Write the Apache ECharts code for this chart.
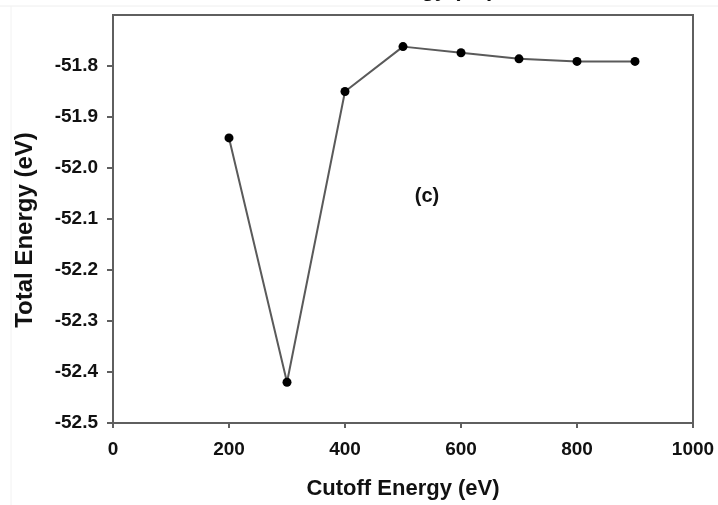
<!DOCTYPE html>
<html>
<head>
<meta charset="utf-8">
<script src="https://cdn.jsdelivr.net/npm/echarts@6/dist/echarts.min.js"></script>
<style>
  html, body { margin: 0; padding: 0; background: #fff; }
  #chart { width: 718px; height: 505px; }
</style>
</head>
<body>
<div id="chart"></div>
<script>
// Convergence of total energy with plane-wave cutoff
const cutoffEnergy = [200, 300, 400, 500, 600, 700, 800, 900];
const totalEnergy = [-51.941, -52.420, -51.850, -51.762, -51.774, -51.786, -51.791, -51.791];
const xTicks = [0, 200, 400, 600, 800, 1000];
const yTicks = [-52.5, -52.4, -52.3, -52.2, -52.1, -52.0, -51.9, -51.8, -51.7];

const chart = echarts.init(document.getElementById('chart'));
const fontFamily = '"Liberation Sans", Arial, sans-serif';
const axisColor = '#5f5f5f';

chart.setOption({
  animation: false,
  backgroundColor: '#fff',
  grid: {
    left: 113, right: 25, top: 15, bottom: 82,
    show: true, borderColor: axisColor, borderWidth: 2
  },
  xAxis: {
    type: 'value',
    min: xTicks[0], max: xTicks[xTicks.length - 1], interval: 200,
    splitLine: { show: false },
    axisLine: { show: true, onZero: false, lineStyle: { color: axisColor, width: 2 } },
    axisTick: { show: true, length: 5, lineStyle: { color: axisColor, width: 2 } },
    axisLabel: {
      margin: 17, color: '#111', fontSize: 19, fontWeight: 'bold', fontFamily,
      formatter: v => String(v)
    }
  },
  yAxis: {
    type: 'value',
    min: yTicks[0], max: yTicks[yTicks.length - 1], interval: 0.1,
    splitLine: { show: false },
    axisLine: { show: true, onZero: false, lineStyle: { color: axisColor, width: 2 } },
    axisTick: { show: true, length: 6, lineStyle: { color: axisColor, width: 2 } },
    axisLabel: {
      margin: 15, color: '#111', fontSize: 19, fontWeight: 'bold', fontFamily,
      showMaxLabel: false,
      formatter: v => v.toFixed(1)
    }
  },
  series: [{
    type: 'line',
    data: cutoffEnergy.map((c, i) => [c, totalEnergy[i]]),
    symbol: 'circle',
    symbolSize: 9,
    itemStyle: { color: '#000' },
    lineStyle: { color: '#5a5a5a', width: 2 }
  }],
  graphic: [
    { type: 'line', shape: { x1: 0, y1: 6, x2: 718, y2: 6 }, style: { stroke: '#eeeeee', lineWidth: 1 }, silent: true },
    { type: 'line', shape: { x1: 11, y1: 6, x2: 11, y2: 505 }, style: { stroke: '#f2f2f2', lineWidth: 1 }, silent: true },
    {
      type: 'text', x: 398, y: 1,
      style: { text: 'Cutoff Energy (eV)', fill: '#111', font: 'bold 22px ' + fontFamily, textAlign: 'center', textVerticalAlign: 'bottom' }
    },
    {
      type: 'text', x: 427, y: 196,
      style: { text: '(c)', fill: '#111', font: 'bold 20px ' + fontFamily, textAlign: 'center', textVerticalAlign: 'middle' }
    },
    {
      type: 'text', x: 403, y: 489,
      style: { text: 'Cutoff Energy (eV)', fill: '#111', font: 'bold 22px ' + fontFamily, textAlign: 'center', textVerticalAlign: 'middle' }
    },
    {
      type: 'text', x: 25, y: 230, rotation: Math.PI / 2,
      style: { text: 'Total Energy (eV)', fill: '#111', font: 'bold 24px ' + fontFamily, textAlign: 'center', textVerticalAlign: 'middle' }
    }
  ]
});
</script>
</body>
</html>
